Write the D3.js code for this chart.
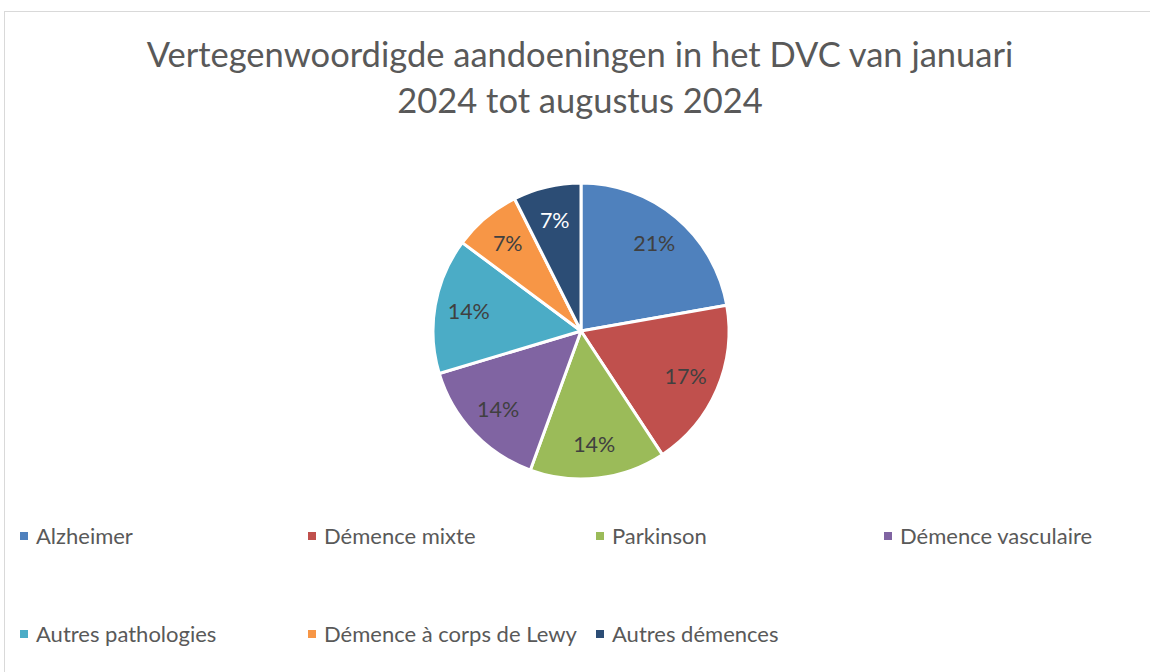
<!DOCTYPE html>
<html lang="fr">
<head>
    <meta charset="UTF-8">
    <title>Vertegenwoordigde aandoeningen in het DVC</title>
    <script src="https://d3js.org/d3.v7.min.js"></script>
</head>
<body style="margin: 0px; background: #fff;">

    <script>

        // data
        var categories=['Alzheimer','Démence mixte','Parkinson','Démence vasculaire',
        'Autres pathologies','Démence à corps de Lewy','Autres démences'];
        var counts=[6,5,4,4,4,2,2];
        var labels=['21%','17%','14%','14%','14%','7%','7%'];
        var colors=['#4F81BD','#C0504D','#9BBB59','#8064A2','#4BACC6','#F79646','#2C4D75'];
        var titleLines=['Vertegenwoordigde aandoeningen in het DVC van januari','2024 tot augustus 2024'];

        var width=1150;
        var height=672;
        var font='Lato, "Open Sans", sans-serif';

        var svg=d3.select('body').append('svg')
                .attr('width',width)
                .attr('height',height)
                .style('display','block');

        // chart border (only top and left visible in the picture)
        svg.append('rect')
                .attr('x',4.5)
                .attr('y',11.5)
                .attr('width',1200)
                .attr('height',700)
                .attr('fill','#fff')
                .attr('stroke','#d9d9d9')
                .attr('stroke-width',1);

        svg.selectAll('text.title')
                .data(titleLines)
                .enter().append('text')
                .attr('class','title')
                .attr('x',580)
                .attr('y',function (d,i) {
                    return 67+i*46;
                })
                .attr('text-anchor','middle')
                .attr('font-family',font)
                .attr('font-size','34.5px')
                .attr('fill','#595959')
                .text(function (d) {
                    return d;
                });

        var cx=581, cy=331, r=148;
        var pie=d3.pie().sort(null).value(function (d) { return d; });
        var arcs=pie(counts);
        var arc=d3.arc().innerRadius(0).outerRadius(r);
        var labelArc=d3.arc().innerRadius(r*0.77).outerRadius(r*0.77);

        var g=svg.append('g').attr('transform','translate('+cx+','+cy+')');
        g.selectAll('path')
                .data(arcs)
                .enter().append('path')
                .attr('d',arc)
                .attr('fill',function (d,i) {
                    return colors[i];
                })
                .attr('stroke','#fff')
                .attr('stroke-width',3)
                .attr('stroke-linejoin','round');

        g.selectAll('text')
                .data(arcs)
                .enter().append('text')
                .attr('transform',function (d) {
                    return 'translate('+labelArc.centroid(d)+')';
                })
                .attr('text-anchor','middle')
                .attr('dy','0.36em')
                .attr('font-family',font)
                .attr('font-size','21.5px')
                .attr('fill',function (d,i) {
                    return i==6 ? '#ffffff' : '#404040';
                })
                .text(function (d,i) {
                    return labels[i];
                });

        // legend, 4 columns
        var legend=svg.selectAll('g.legend')
                .data(categories)
                .enter().append('g')
                .attr('class','legend')
                .attr('transform',function (d,i) {
                    return 'translate('+(20+(i%4)*288)+','+(532+Math.floor(i/4)*98)+')';
                });
        legend.append('rect')
                .attr('width',8)
                .attr('height',8)
                .attr('fill',function (d,i) {
                    return colors[i];
                });
        legend.append('text')
                .attr('x',16)
                .attr('y',11.5)
                .attr('font-family',font)
                .attr('font-size','22px')
                .attr('fill','#595959')
                .text(function (d) {
                    return d;
                });
    </script>
</body>
</html>
